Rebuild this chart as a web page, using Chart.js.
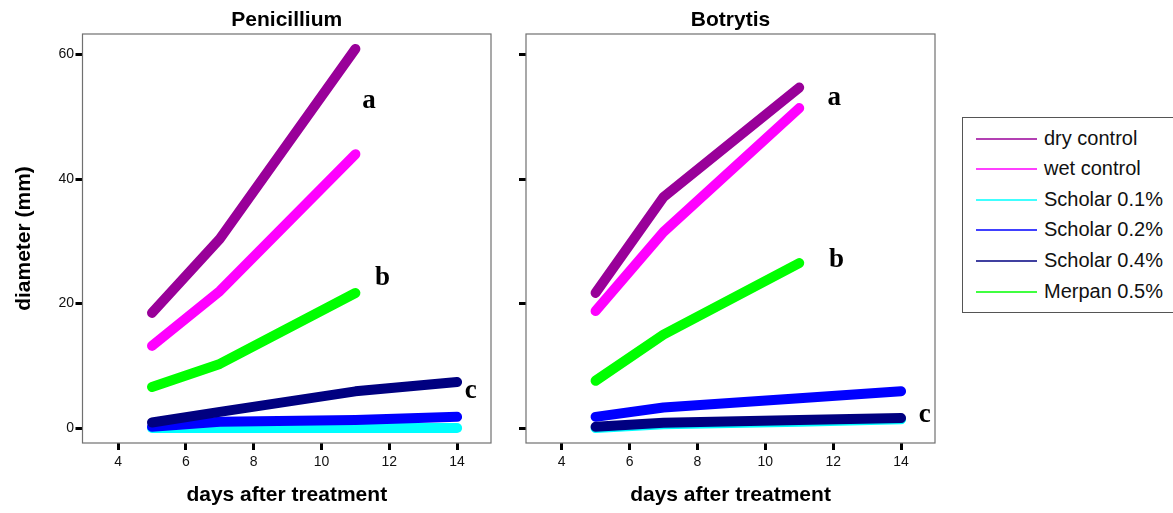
<!DOCTYPE html>
<html>
<head>
<meta charset="utf-8">
<script src="https://cdn.jsdelivr.net/npm/chart.js@4"></script>
<style>
  body { margin: 0; width: 1173px; height: 513px; overflow: hidden; background: #fff; position: relative;
         font-family: "Liberation Sans", Arial, sans-serif; }
  #penicillium { position: absolute; left: 0; top: 0; }
  #botrytis { position: absolute; left: 500px; top: 0; }
  #legend { position: absolute; left: 962px; top: 117px; width: 230px; height: 194px;
            border: 1.5px solid #555; }
  .row { position: absolute; left: 0; height: 30px; width: 230px; }
  .swatch { position: absolute; left: 13px; top: 14px; width: 61px; height: 2px; opacity: 0.75; }
  .label { position: absolute; left: 81px; top: 3px; font-size: 20px; color: #111; white-space: nowrap; }
</style>
</head>
<body>
<canvas id="penicillium" width="500" height="513"></canvas>
<canvas id="botrytis" width="460" height="513"></canvas>
<div id="legend"></div>
<script>
// days on the x axis
const days = [5, 7, 11, 14];

const seriesNames = ['dry control', 'wet control', 'Scholar 0.1%', 'Scholar 0.2%', 'Scholar 0.4%', 'Merpan 0.5%'];
const seriesColors = ['#990099', '#ff00ff', '#00ffff', '#0000ff', '#000080', '#00ff00'];
const seriesOrder = [5, 4, 2, 1, 0, 3];  // 0 is drawn on top

// Penicillium diameters (mm)
const penDry = [18.5, 30.4, 60.9, null];
const penWet = [13.2, 22.0, 44.0, null];
const penScholar01 = [0, 0, 0, 0];
const penScholar02 = [0.2, 1.0, 1.3, 1.8];
const penScholar04 = [0.9, 2.6, 5.9, 7.4];
const penMerpan = [6.6, 10.3, 21.7, null];

// Botrytis diameters (mm)
const botDry = [21.7, 37.1, 54.7, null];
const botWet = [18.8, 31.5, 51.4, null];
const botScholar01 = [0, 0.6, 1.0, 1.4];
const botScholar02 = [1.8, 3.3, 4.8, 5.9];
const botScholar04 = [0.2, 0.85, 1.3, 1.6];
const botMerpan = [7.6, 15.0, 26.5, null];

// tick labels
const xTicks = [4, 6, 8, 10, 12, 14];
const yTicks = [0, 20, 40, 60];

// significance letters (data units, baseline)
const penLetters = ['a', 'b', 'c'];
const penLetterX = [11.4, 11.8, 14.4];
const penLetterY = [51.4, 23.0, 4.8];
const botLetters = ['a', 'b', 'c'];
const botLetterX = [12.03, 12.1, 14.7];
const botLetterY = [51.9, 25.9, 0.9];

Chart.defaults.font.family = '"Liberation Sans", Arial, sans-serif';

const framePlugin = {
  id: 'frame',
  beforeDatasetsDraw(chart) {
    const a = chart.chartArea, ctx = chart.ctx;
    ctx.save();
    ctx.strokeStyle = '#707070';
    ctx.lineWidth = 1.2;
    ctx.strokeRect(a.left, a.top, a.right - a.left, a.bottom - a.top);
    ctx.restore();
  }
};

function letterPlugin(texts, xs, ys) {
  return {
    id: 'letters',
    afterDatasetsDraw(chart) {
      const ctx = chart.ctx;
      ctx.save();
      ctx.font = 'bold 27px "Liberation Serif", "Times New Roman", serif';
      ctx.fillStyle = '#000';
      ctx.textAlign = 'center';
      ctx.textBaseline = 'alphabetic';
      texts.forEach((t, i) => {
        ctx.fillText(t, chart.scales.x.getPixelForValue(xs[i]), chart.scales.y.getPixelForValue(ys[i]));
      });
      ctx.restore();
    }
  };
}

function makeChart(id, title, series, letters, yLabels, yWidth, padRight) {
  const tickGrid = { drawOnChartArea: false, drawTicks: true, tickLength: 7, tickWidth: 3, tickColor: '#000' };
  return new Chart(document.getElementById(id), {
    type: 'line',
    data: {
      datasets: series.map((vals, i) => ({
        label: seriesNames[i],
        data: days.map((d, j) => ({ x: d, y: vals[j] })).filter(p => p.y !== null),
        borderColor: seriesColors[i],
        borderWidth: 10,
        borderCapStyle: 'round',
        borderJoinStyle: 'round',
        pointRadius: 0,
        tension: 0,
        fill: false,
        order: seriesOrder[i]
      }))
    },
    options: {
      responsive: false,
      animation: false,
      events: [],
      layout: { padding: { left: 0, right: padRight, top: 0, bottom: 0 } },
      plugins: {
        legend: { display: false },
        tooltip: { enabled: false },
        title: {
          display: true, text: title, fullSize: false, color: '#000',
          font: { size: 21, weight: 'bold' }, padding: { top: 8, bottom: 0.8 }
        }
      },
      scales: {
        x: {
          type: 'linear', min: 2.95, max: 15,
          afterBuildTicks: s => { s.ticks = xTicks.map(v => ({ value: v })); },
          afterFit: s => { s.height = 70; },
          grid: tickGrid,
          border: { display: false },
          ticks: { font: { size: 14 }, color: '#111', padding: 4, maxRotation: 0, autoSkip: false },
          title: {
            display: true, text: 'days after treatment', color: '#000',
            font: { size: 21, weight: 'bold' }, padding: { top: 0, bottom: 4.8 }
          }
        },
        y: {
          type: 'linear', min: -2.4, max: 63.3,
          afterBuildTicks: s => { s.ticks = yTicks.map(v => ({ value: v })); },
          afterFit: s => { s.width = yWidth; },
          grid: tickGrid,
          border: { display: false },
          ticks: {
            font: { size: 14 }, color: '#111', padding: 1.5, autoSkip: false,
            callback: v => yLabels ? v : ''
          },
          title: {
            display: yLabels, text: 'diameter (mm)', color: '#000',
            font: { size: 21, weight: 'bold' }, padding: { top: 12, bottom: 0 }
          }
        }
      }
    },
    plugins: [framePlugin, letterPlugin(letters[0], letters[1], letters[2])]
  });
}

makeChart('penicillium', 'Penicillium',
  [penDry, penWet, penScholar01, penScholar02, penScholar04, penMerpan],
  [penLetters, penLetterX, penLetterY], true, 82.5, 9);

makeChart('botrytis', 'Botrytis',
  [botDry, botWet, botScholar01, botScholar02, botScholar04, botMerpan],
  [botLetters, botLetterX, botLetterY], false, 26, 25);

// legend
const legend = document.getElementById('legend');
seriesNames.forEach((name, i) => {
  const row = document.createElement('div');
  row.className = 'row';
  row.style.top = (5.5 + 30.6 * i) + 'px';
  const sw = document.createElement('div');
  sw.className = 'swatch';
  sw.style.background = seriesColors[i];
  const lb = document.createElement('div');
  lb.className = 'label';
  lb.textContent = name;
  row.appendChild(sw);
  row.appendChild(lb);
  legend.appendChild(row);
});
</script>
</body>
</html>
